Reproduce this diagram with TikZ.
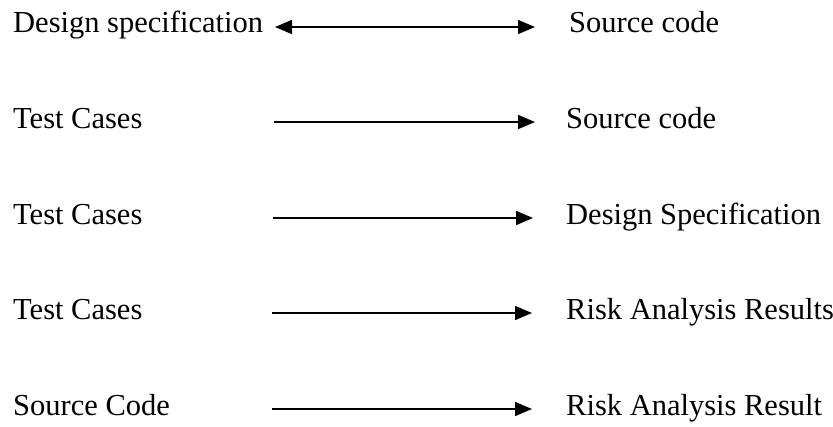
\documentclass[tikz,border=0pt]{standalone}
\usepackage{fontspec}
\setmainfont{Liberation Serif}
\usetikzlibrary{arrows.meta}
\begin{document}
\begin{tikzpicture}[x=1pt,y=-1pt,
  lbl/.style={anchor=base west,inner sep=0pt,font=\fontsize{30.5}{36}\selectfont},
  arr/.style={-{Triangle[length=17pt 0,width=14pt 0]},line width=1.5pt}]
\useasboundingbox (0,0) rectangle (833,426);
% linke Spalte
\node[lbl] (design) at (13,32) {Design specification};
\node[lbl] (tests1) at (13,128) {Test Cases};
\node[lbl] (tests2) at (13,224) {Test Cases};
\node[lbl] (tests3) at (13,319) {Test Cases};
\node[lbl] (code) at (13,415) {Source Code};
% rechte Spalte
\node[lbl] (source1) at (569,32) {Source code};
\node[lbl] (source2) at (566,128) {Source code};
\node[lbl] (spec) at (566,224) {Design Specification};
\node[lbl] (risk1) at (566,319) {Risk Analysis Results};
\node[lbl] (risk2) at (566,415) {Risk Analysis Result};
% Pfeile
\coordinate (a1) at (275,27);  \coordinate (b1) at (535,27);
\coordinate (a2) at (274,122); \coordinate (b2) at (535,122);
\coordinate (a3) at (273,218); \coordinate (b3) at (533,218);
\coordinate (a4) at (272,313); \coordinate (b4) at (532,313);
\coordinate (a5) at (272,409); \coordinate (b5) at (532,409);
\draw[arr,{Triangle[length=17pt 0,width=14pt 0]}-{Triangle[length=17pt 0,width=14pt 0]}] (a1) -- (b1);
\foreach \i in {2,...,5}
  \draw[arr] (a\i) -- (b\i);
\end{tikzpicture}
\end{document}
